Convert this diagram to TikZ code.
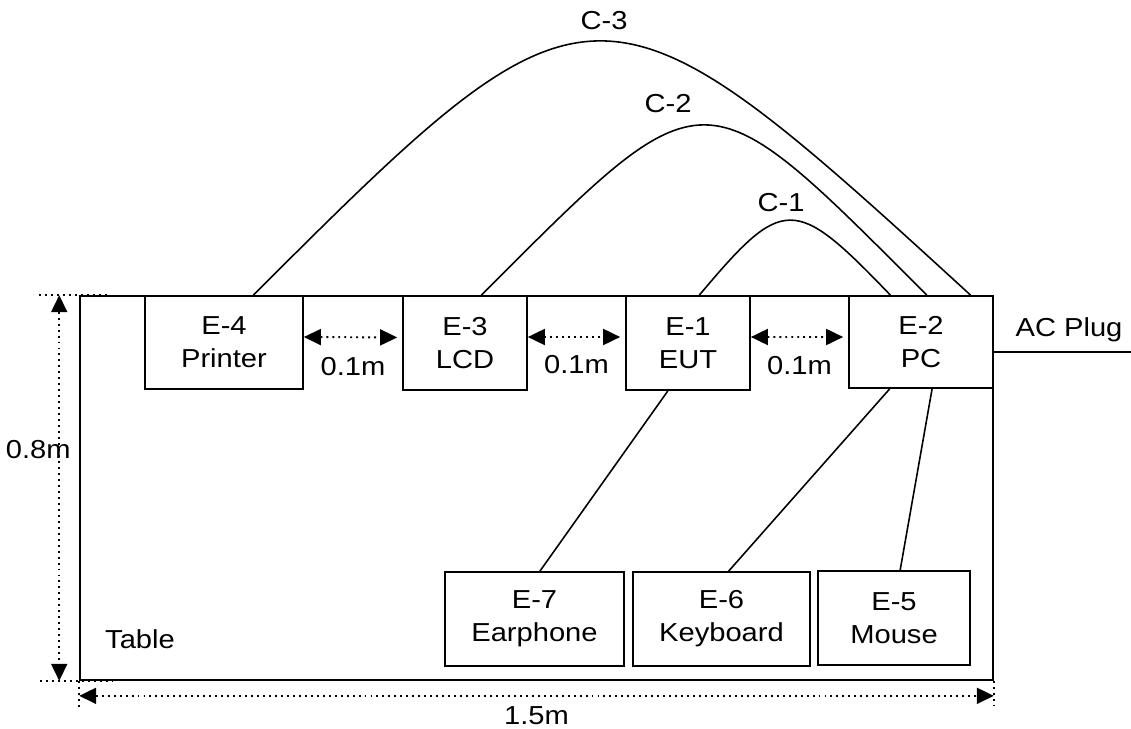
\documentclass[tikz,border=0pt]{standalone}
\usepackage{fontspec}
\setmainfont{Liberation Sans}[FakeStretch=1.12]
\usetikzlibrary{arrows.meta,calc}

\begin{document}
\begin{tikzpicture}[x=0.02cm,y=-0.02cm,
        box/.style={draw,line width=1pt,inner sep=0pt,align=center,font=\fontsize{14.8}{18.7}\selectfont},
        lbl/.style={font=\fontsize{14.8}{17}\selectfont},
        cable/.style={line width=0.9pt},
        dimline/.style={line width=1.1pt,dash pattern=on 1.1pt off 2.3pt},
        dimarrow/.style={dimline,{Triangle[length=0.34cm,width=0.32cm]}-{Triangle[length=0.34cm,width=0.32cm]}}]
        \useasboundingbox (0,0) rectangle (1131,729);

        \coordinate (tb) at (536.5,488);
        \coordinate (e4) at (224,342.5);
        \coordinate (e3) at (465,343);
        \coordinate (e1) at (688,343);
        \coordinate (e2) at (921,342);
        \coordinate (e7) at (534.5,619);
        \coordinate (e6) at (721.5,619);
        \coordinate (e5) at (894,618);
        \coordinate (acend) at (1131,352);

        \node[draw,line width=1pt,inner sep=0pt,minimum width=18.26cm,minimum height=7.68cm] (table) at (tb) {};
        \node[box,minimum width=3.16cm,minimum height=1.86cm] (printer) at (e4) {E-4\\Printer};
        \node[box,minimum width=2.48cm,minimum height=1.88cm] (lcd) at (e3) {E-3\\LCD};
        \node[box,minimum width=2.48cm,minimum height=1.88cm] (eut) at (e1) {E-1\\EUT};
        \node[box,minimum width=2.88cm,minimum height=1.84cm] (pc) at (e2) {E-2\\PC};
        \node[box,minimum width=3.58cm,minimum height=1.88cm] (earphone) at (e7) {E-7\\Earphone};
        \node[box,minimum width=3.54cm,minimum height=1.88cm] (keyboard) at (e6) {E-6\\Keyboard};
        \node[box,minimum width=3.04cm,minimum height=1.88cm] (mouse) at (e5) {E-5\\Mouse};

        \node[lbl] (tablelbl) at (140,639) {Table};
        \node[lbl] (aclbl) at (1069,330) {AC Plug};
        \node[lbl] (c3) at (604,21) {C-3};
        \node[lbl] (c2) at (668,104) {C-2};
        \node[lbl] (c1) at (781,203) {C-1};

        % cables over the table
        \draw[cable] ($(printer.north west)!.684!(printer.north east)$) .. controls +(339,-339) and +(-370,-339) .. ($(pc.north west)!.84!(pc.north east)$);
        \draw[cable] ($(lcd.north west)!.63!(lcd.north east)$) .. controls +(227,-227) and +(-227,-227) .. ($(pc.north west)!.54!(pc.north east)$);
        \draw[cable] ($(eut.north west)!.59!(eut.north east)$) .. controls +(84,-100) and +(-96,-100) .. ($(pc.north west)!.29!(pc.north east)$);
        \draw[cable] ($(eut.south west)!.34!(eut.south east)$) -- ($(earphone.north west)!.53!(earphone.north east)$);
        \draw[cable] ($(pc.south west)!.285!(pc.south east)$) -- ($(keyboard.north west)!.54!(keyboard.north east)$);
        \draw[cable] ($(pc.south west)!.576!(pc.south east)$) -- ($(mouse.north west)!.54!(mouse.north east)$);
        \draw[line width=1pt] ([yshift=-0.2cm]pc.east) -- (acend);

        % spacing between units
        \draw[dimarrow,shorten >=0.1cm] ([yshift=0.11cm]printer.east) -- ([yshift=0.11cm]lcd.west) node[midway,lbl,yshift=-0.58cm] {0.1m};
        \draw[dimarrow,shorten >=0.1cm] ([yshift=0.12cm]lcd.east) -- ([yshift=0.12cm]eut.west) node[midway,lbl,yshift=-0.56cm] {0.1m};
        \draw[dimarrow,shorten >=0.1cm] ([yshift=0.12cm]eut.east) -- ([yshift=0.1cm]pc.west) node[midway,lbl,yshift=-0.58cm] {0.1m};

        % table size
        \draw[dimline] ([xshift=-0.8cm]table.north west) -- ([xshift=0.6cm]table.north west);
        \draw[dimline] ([xshift=-0.78cm]table.south west) -- ([xshift=0.66cm]table.south west);
        \draw[dimline] (table.south west) -- ([yshift=-0.56cm]table.south west);
        \draw[dimline] (table.south east) -- ([yshift=-0.5cm]table.south east);
        \draw[dimarrow] ([xshift=-0.4cm]table.north west) -- ([xshift=-0.4cm]table.south west) node[pos=0.4,lbl,xshift=-0.42cm] {0.8m};
        \draw[dimarrow] ([yshift=-0.3cm]table.south west) -- ([yshift=-0.3cm]table.south east) node[midway,lbl,yshift=-0.4cm,inner sep=1pt] {1.5m};
    \end{tikzpicture}
\end{document}
